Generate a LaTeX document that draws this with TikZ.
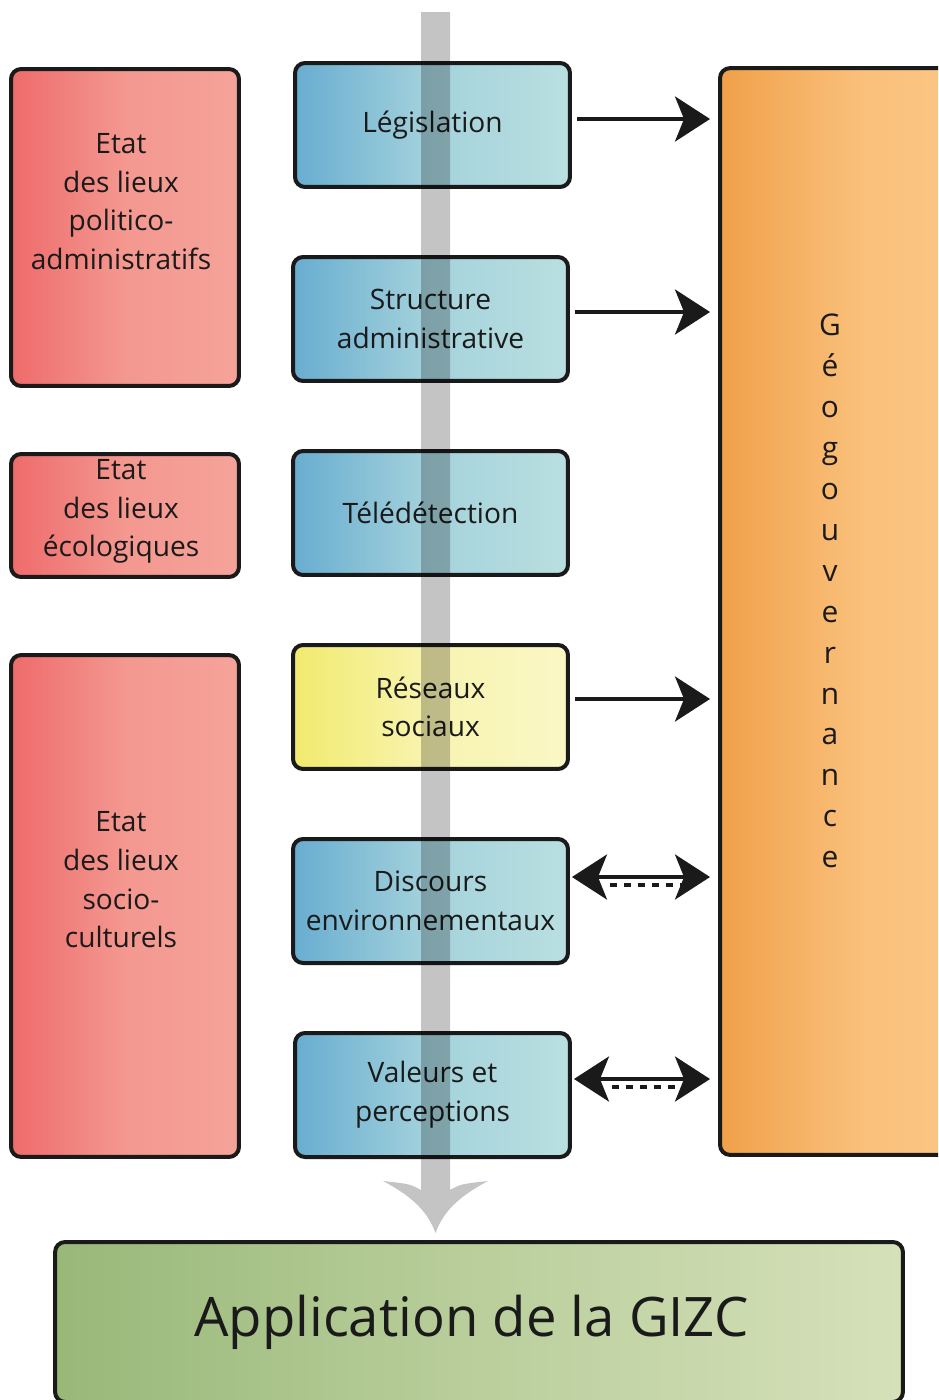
\documentclass[tikz,border=0pt]{standalone}
\usepackage{fontspec}
\setmainfont{Open Sans}
\usetikzlibrary{arrows.meta}

\definecolor{bleuG}{HTML}{68ADD0}
\definecolor{bleuD}{HTML}{B9DFE0}
\definecolor{rougeG}{HTML}{EE6B6B}
\definecolor{rougeD}{HTML}{F5A399}
\definecolor{jauneG}{HTML}{F2EA6E}
\definecolor{jauneD}{HTML}{FAF7C6}
\definecolor{orangeG}{HTML}{F0A048}
\definecolor{orangeD}{HTML}{FCC888}
\definecolor{vertG}{HTML}{98B878}
\definecolor{vertD}{HTML}{D6E1BA}
\definecolor{encre}{HTML}{1A1A1A}

\tikzset{
  boite/.style={draw=encre, line width=0.08cm, rounded corners=0.2cm,
    inner sep=0pt, align=center, text=encre,
    font=\fontsize{16}{22}\selectfont},
  outil/.style={boite, minimum width=5.5cm, minimum height=2.48cm,
    left color=bleuG, right color=bleuD, middle color=bleuD!75!bleuG},
  etat/.style={boite, minimum width=4.56cm,
    left color=rougeG, right color=rougeD, middle color=rougeD!80!rougeG},
  texte/.style={align=center, text=encre, font=\fontsize{16}{22}\selectfont},
  fleche/.style={line width=0.08cm, draw=encre,
    -{Stealth[length=0.7cm,width=0.9cm,inset=0.18cm]},
    shorten <=0.1cm, shorten >=0.16cm},
  double/.style={line width=0.08cm, draw=encre,
    {Stealth[length=0.7cm,width=0.9cm,inset=0.18cm]}-{Stealth[length=0.7cm,width=0.9cm,inset=0.18cm]},
    shorten <=0.04cm, shorten >=0.16cm},
  tirets/.style={line width=0.08cm, draw=encre, dash pattern=on 0.14cm off 0.14cm}
}

\begin{document}
\begin{tikzpicture}[x=0.02cm,y=-0.02cm]

\useasboundingbox (0,0) rectangle (938,1400);
\clip (0,0) rectangle (938,1400);

% etats des lieux
\node[etat, minimum height=6.34cm]
(politique)
at (125,227.5)
{};

\node[texte]
(politiqueT)
at ([xshift=-0.08cm,yshift=0.52cm]politique.center)
{Etat\\des lieux\\politico-\\administratifs};

\node[etat, minimum height=2.46cm]
(ecologie)
at (125,515.5)
{};

\node[texte]
(ecologieT)
at ([xshift=-0.08cm,yshift=0.08cm]ecologie.center)
{Etat\\des lieux\\écologiques};

\node[etat, minimum height=10.04cm]
(culture)
at (125,906)
{};

\node[texte]
(cultureT)
at ([xshift=-0.08cm,yshift=0.52cm]culture.center)
{Etat\\des lieux\\socio-\\culturels};

% outils
\node[outil]
(legis)
at (432.5,125)
{Législation};

\node[outil]
(struct)
at (430.5,319)
{Structure\\administrative};

\node[outil]
(teled)
at (430.5,513)
{Télédétection};

\node[outil, left color=jauneG, right color=jauneD, middle color=jauneD!75!jauneG]
(reseaux)
at (430.5,707)
{Réseaux\\sociaux};

\node[outil]
(discours)
at (430.5,901)
{Discours\\environnementaux};

\node[outil]
(valeurs)
at (432.5,1095)
{Valeurs et\\perceptions};

% geogouvernance
\node[boite, minimum width=5.6cm, minimum height=21.74cm,
  left color=orangeG, right color=orangeD, middle color=orangeD!80!orangeG]
(geo)
at (860,611.5)
{};

\node[texte, font=\fontsize{17}{23.3}\selectfont]
(geoT)
at (830,591)
{G\\é\\o\\g\\o\\u\\v\\e\\r\\n\\a\\n\\c\\e};

% GIZC
\node[boite, minimum width=16.96cm, minimum height=3.2cm,
  left color=vertG, right color=vertD, middle color=vertD!55!vertG,
  font=\fontsize{31}{38}\selectfont]
(gizc)
at (479,1322)
{\hspace*{-0.3cm}Application de la GIZC};

% fleches
\draw[fleche] ([yshift=0.12cm]legis.east) -- ([yshift=0.12cm]geo.west |- legis.east);
\draw[fleche] ([yshift=0.14cm]struct.east) -- ([yshift=0.14cm]geo.west |- struct.east);
\draw[fleche] ([yshift=0.16cm]reseaux.east) -- ([yshift=0.16cm]geo.west |- reseaux.east);

\draw[double] ([yshift=0.48cm]discours.east) -- ([yshift=0.48cm]geo.west |- discours.east);
\draw[tirets] ([xshift=0.8cm,yshift=0.32cm]discours.east) -- ([xshift=-0.7cm,yshift=0.32cm]geo.west |- discours.east);

\draw[double] ([yshift=0.32cm]valeurs.east) -- ([yshift=0.32cm]geo.west |- valeurs.east);
\draw[tirets] ([xshift=0.8cm,yshift=0.16cm]valeurs.east) -- ([xshift=-0.7cm,yshift=0.16cm]geo.west |- valeurs.east);

% fleche grise
\fill[black, fill opacity=0.23]
  (421,12) -- (421,1190)
  .. controls (410,1184) .. (383,1181)
  .. controls (415,1198) and (428,1213) .. (435.5,1233)
  .. controls (443,1213) and (456,1198) .. (488,1181)
  .. controls (461,1184) .. (450,1190)
  -- (450,12) -- cycle;

\end{tikzpicture}
\end{document}
